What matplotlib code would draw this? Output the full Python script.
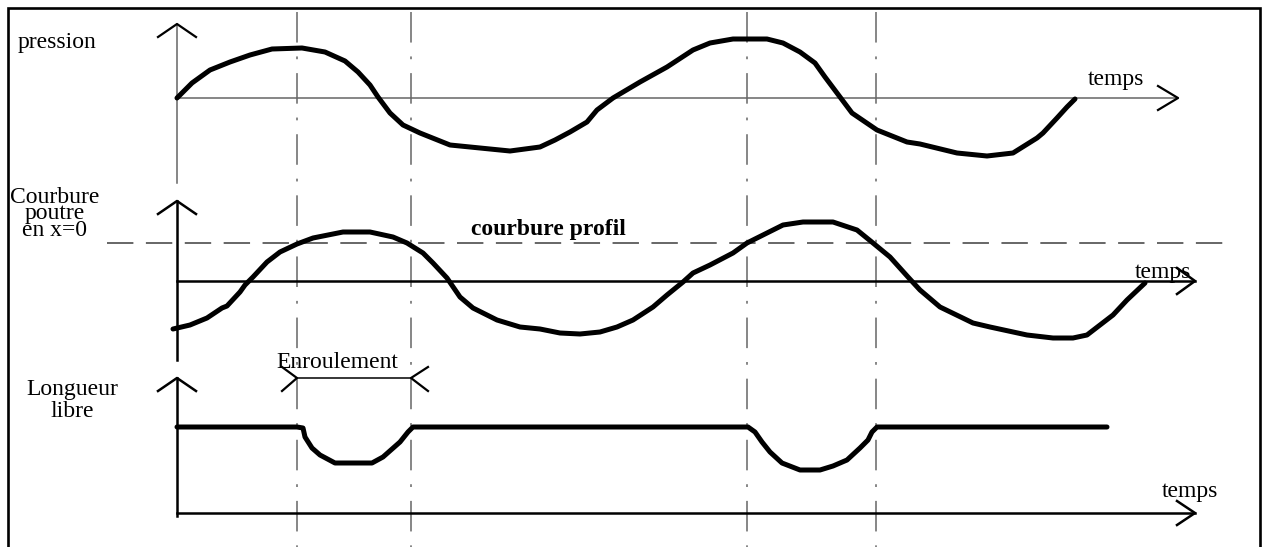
import matplotlib
matplotlib.use("Agg")
import matplotlib.pyplot as plt
import numpy as np

plt.rcParams['font.family'] = ['Liberation Serif', 'DejaVu Serif']
plt.rcParams['lines.scale_dashes'] = False

# --- data (time in px along the drawing, value = height above the panel's axis) ---
pression_t = [177, 192, 210, 230, 250, 272, 302, 325, 345, 358, 370, 378, 390, 403, 420,
              450, 490, 510, 540, 555, 570, 587, 597, 613, 640, 667, 693, 710, 733, 767,
              783, 800, 815, 825, 840, 852, 877, 907, 920, 957, 987, 1013, 1037, 1043,
              1057, 1067, 1075]
pression_v = [0, 15, 28, 36, 43, 49, 50, 46, 37, 26, 13, 1, -15, -27, -35,
              -47, -51, -53, -49, -42, -34, -24, -12, 0, 16, 31, 48, 55, 59, 59,
              55, 46, 35, 21, 1, -15, -32, -44, -46, -55, -58, -55, -40, -35,
              -20, -9, -1]

courbure_t = [173, 190, 207, 222, 227, 240, 245, 253, 267, 280, 297, 313, 333, 343, 370,
              393, 407, 423, 433, 447, 460, 473, 497, 520, 540, 560, 580, 600, 617, 633,
              653, 667, 683, 693, 710, 733, 747, 767, 783, 803, 833, 857, 873, 890, 908,
              920, 940, 973, 990, 1027, 1053, 1073, 1087, 1113, 1127, 1145]
courbure_v = [-48, -44, -37, -27, -25, -11, -4, 4, 19, 29, 37, 43, 47, 49, 49,
              44, 38, 28, 18, 3, -16, -27, -39, -46, -48, -52, -53, -51, -46, -39,
              -26, -14, -1, 8, 16, 28, 38, 48, 56, 59, 59, 51, 38, 24, 4,
              -9, -26, -42, -46, -54, -57, -57, -54, -34, -19, -2]
courbure_profil = 38

longueur_t = [177, 297, 303, 305, 312, 320, 335, 372, 383, 400, 408, 413,
              748, 755, 762, 770, 782, 800, 820, 833, 847, 860, 868, 872, 877, 1107]
longueur_v = [86, 86, 85, 76, 65, 58, 50, 50, 56, 71, 81, 86,
              86, 81, 71, 61, 50, 43, 43, 47, 53, 65, 73, 81, 86, 86]

events_t = [297, 411, 747, 876]

# --- layout (pixels) ---
W, H = 1266, 547
X0 = 177
AX1_Y, AX2_Y, AX3_Y = 98, 281, 513
GRAY = '#666666'

fig = plt.figure(figsize=(W / 100, H / 100), dpi=100)
ax = fig.add_axes([0, 0, 1, 1])
ax.set_xlim(0, W)
ax.set_ylim(H, 0)
ax.axis('off')

# frame
ax.plot([8, 8, 1260, 1260], [552, 8, 8, 552], color='black', lw=1.9,
        solid_joinstyle='miter')


def chevron_up(x, y, color='black', lw=1.8):
    ax.plot([x - 19, x, x + 19], [y + 13, y, y + 13], color=color, lw=lw)


def chevron_right(x, y, dx=19, dy=12, lw=1.8):
    ax.plot([x - dx, x, x - dx], [y - dy, y, y + dy], color='black', lw=lw)


# event lines
for t in events_t:
    ax.plot([t, t], [12, H], color=GRAY, lw=1.1, dashes=(22, 10, 2, 10))

# panel 1 : pression
ax.plot([X0, X0], [24, 183], color=GRAY, lw=1.1)
ax.plot([X0, 1178], [AX1_Y, AX1_Y], color=GRAY, lw=1.1)
chevron_up(X0, 24, lw=1.6)
chevron_right(1178, AX1_Y, dx=20, dy=12, lw=1.6)
ax.plot(pression_t, AX1_Y - np.array(pression_v), color='black', lw=3.6,
        solid_capstyle='round', solid_joinstyle='round')
ax.text(18, 48, 'pression', fontsize=17, va='baseline', ha='left')
ax.text(1088, 85, 'temps', fontsize=17, va='baseline', ha='left')

# panel 2 : courbure
ax.plot([107, 1232], [AX2_Y - courbure_profil] * 2, color=GRAY, lw=1.4,
        dashes=(19, 9))
ax.plot([X0, X0], [201, 360], color='black', lw=1.8)
ax.plot([X0, 1195], [AX2_Y, AX2_Y], color='black', lw=1.8)
chevron_up(X0, 201)
chevron_right(1195, AX2_Y, dx=18, dy=13)
ax.plot(courbure_t, AX2_Y - np.array(courbure_v), color='black', lw=3.6,
        solid_capstyle='round', solid_joinstyle='round')
ax.text(55, 203, 'Courbure', fontsize=17, va='baseline', ha='center')
ax.text(55, 219, 'poutre', fontsize=17, va='baseline', ha='center')
ax.text(55, 236, 'en x=0', fontsize=17, va='baseline', ha='center')
ax.text(548, 235, 'courbure profil', fontsize=17, fontweight='bold',
        va='baseline', ha='center')
ax.text(1135, 278, 'temps', fontsize=17, va='baseline', ha='left')

# panel 3 : longueur libre
ax.plot([X0, X0], [378, 516], color='black', lw=1.8)
ax.plot([X0, 1195], [AX3_Y, AX3_Y], color='black', lw=1.8)
chevron_up(X0, 378)
chevron_right(1195, AX3_Y, dx=18, dy=12)
ax.plot(longueur_t, AX3_Y - np.array(longueur_v), color='black', lw=3.6,
        solid_capstyle='round', solid_joinstyle='round')
ax.text(72, 395, 'Longueur', fontsize=17, va='baseline', ha='center')
ax.text(72, 417, 'libre', fontsize=17, va='baseline', ha='center')
ax.text(1162, 497, 'temps', fontsize=17, va='baseline', ha='left')

# enroulement dimension
ax.plot([events_t[0], events_t[1]], [378, 378], color='black', lw=1.1)
ax.plot([282, events_t[0], 282], [367, 378, 391], color='black', lw=1.6)
ax.plot([428, events_t[1], 428], [367, 378, 391], color='black', lw=1.6)
ax.text(337, 368, 'Enroulement', fontsize=17, va='baseline', ha='center')

fig.savefig('out.png', dpi=100)
